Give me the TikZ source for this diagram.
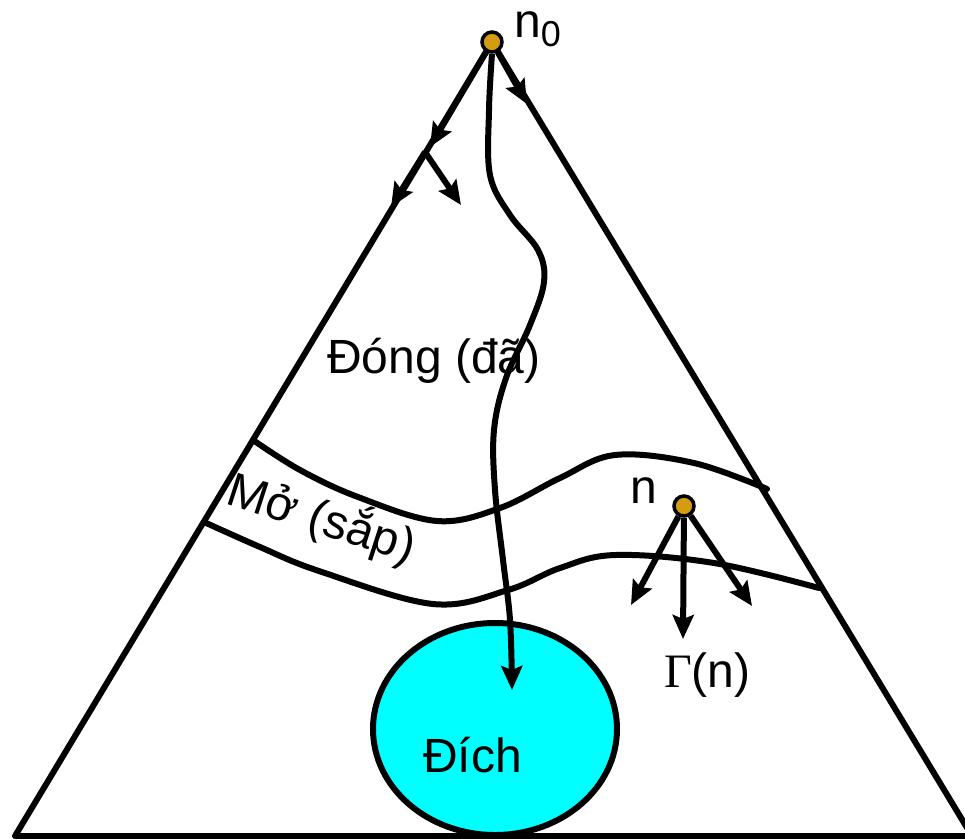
\documentclass[tikz,border=0pt]{standalone}
\usepackage{fontspec}
\setmainfont{Liberation Sans}
\newfontfamily\serifG{Liberation Serif}
\usetikzlibrary{arrows.meta,shapes.geometric}
\definecolor{dotgold}{RGB}{210,158,16}
\definecolor{goalcyan}{RGB}{0,255,255}
\tikzset{
  edge/.style={line width=6pt, line cap=round, line join=round},
  arr/.style={line width=6pt, -{Stealth[length=24pt,width=21pt,inset=4pt]}},
  dot/.style={circle, draw, line width=3.5pt, fill=dotgold, minimum size=20pt, inner sep=0pt},
  lbl/.style={font=\fontsize{48}{56}\selectfont, inner sep=0pt},
}
\begin{document}
\begin{tikzpicture}[x=1pt,y=-1pt]
\useasboundingbox (0,0) rectangle (965,839);
% goal ellipse
\node[ellipse, draw, line width=6pt, fill=goalcyan, minimum width=244pt, minimum height=212pt, inner sep=0pt] (goal) at (495,729) {};
% triangle corners
\coordinate (apex) at (492,42);
\coordinate (bl) at (15,836);
\coordinate (br) at (972,836);
\draw[edge] (bl) -- (apex) -- (br);
\draw[line width=6.5pt] (bl) -- (br);
% band curves
\draw[edge] plot[smooth, tension=0.6] coordinates {(253,440) (300,470) (358,497) (437,521) (500,508) (560,478) (615,455) (694,463) (767,489)};
\draw[edge] plot[smooth, tension=0.6] coordinates {(204,522) (260,547) (319,571) (433,604) (508,590) (560,568) (615,555) (714,563) (819,588)};
% nodes
\node[dot] (n0) at (apex) {};
\node[dot] (n) at (684,506) {};
% apex arrows
\coordinate (a1) at (430,147);
\coordinate (b1) at (425,152);
\coordinate (a2) at (391,207);
\coordinate (a3) at (461,205);
\coordinate (a4) at (527,104);
\draw[arr] (n0) -- (a1);
\draw[arr] (b1) -- (a2);
\draw[arr] (b1) -- (a3);
\draw[arr] (n0) -- (a4);
% successors of n
\coordinate (s1) at (631,605);
\coordinate (s2) at (683,639);
\coordinate (s3) at (752,606);
\draw[arr] (n) -- (s1);
\draw[arr] (n) -- (s2);
\draw[arr] (n) -- (s3);
% wavy path to goal
\coordinate (gin) at (512,690);
\draw[arr] plot[smooth, tension=0.6] coordinates {(n0.south) (489,110) (490,175) (510,215) (538,250) (544,282) (530,325) (506,378) (494,430) (495,490) (503,560) (510,620) (gin)};
% labels
\node[lbl, anchor=base west] (l0) at (514,37) {n\raisebox{-9pt}{\fontsize{36}{40}\selectfont 0}};
\node[lbl, anchor=base west] (lclosed) at (327,373) {Đóng (đã)};
\node[lbl, anchor=base west] (lgoal) at (423,772) {Đích};
\node[lbl, anchor=base west] (ln) at (630,503) {n};
\node[lbl, anchor=base west] (lgamma) at (664,687) {{\serifG Γ}(n)};
\node[lbl, rotate=-18] (lopen) at (322,518) {Mở (sắp)};
\end{tikzpicture}
\end{document}
